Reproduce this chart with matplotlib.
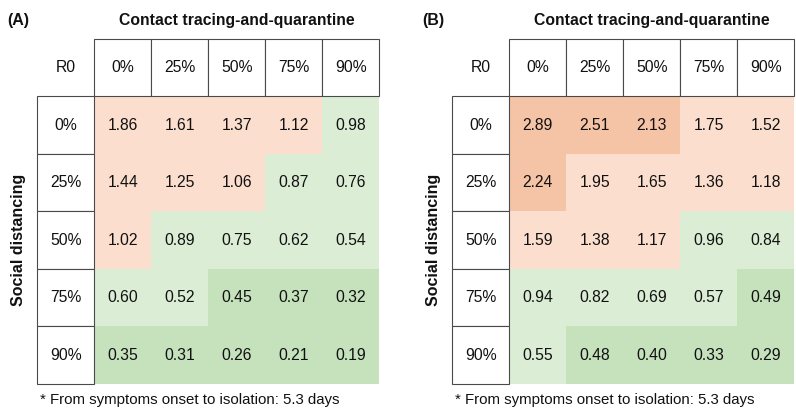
import matplotlib.pyplot as plt
import numpy as np
from matplotlib.colors import ListedColormap, BoundaryNorm
from matplotlib.patches import Rectangle

plt.rcParams['font.family'] = ['Liberation Sans', 'DejaVu Sans']

tracing_levels = ['0%', '25%', '50%', '75%', '90%']
distancing_levels = ['0%', '25%', '50%', '75%', '90%']

r_values_a = [
    [1.86, 1.61, 1.37, 1.12, 0.98],
    [1.44, 1.25, 1.06, 0.87, 0.76],
    [1.02, 0.89, 0.75, 0.62, 0.54],
    [0.60, 0.52, 0.45, 0.37, 0.32],
    [0.35, 0.31, 0.26, 0.21, 0.19],
]
r_values_b = [
    [2.89, 2.51, 2.13, 1.75, 1.52],
    [2.24, 1.95, 1.65, 1.36, 1.18],
    [1.59, 1.38, 1.17, 0.96, 0.84],
    [0.94, 0.82, 0.69, 0.57, 0.49],
    [0.55, 0.48, 0.40, 0.33, 0.29],
]

# colour bands: <0.5, 0.5-1, 1-2, >2
cmap = ListedColormap(['#c6e2bd', '#dcedd6', '#fbdecd', '#f5c3a5'])
norm = BoundaryNorm([0, 0.5, 1, 2, 10], cmap.N)

W, H = 796, 412
fig = plt.figure(figsize=(W / 100, H / 100), dpi=100)

line_col = '#4a4a4a'
txt_col = '#111111'


def draw_panel(x0, label, values):
    # grid spans 6x6 cells (label column + 5, header row + 5)
    ax = fig.add_axes([x0 / W, 1 - 384 / H, 342 / W, 345.3 / H])
    ax.set_xlim(-1, 5)
    ax.set_ylim(5, -1)
    ax.set_axis_off()

    ax.pcolormesh(np.arange(6), np.arange(6), np.array(values), cmap=cmap, norm=norm)

    for i in range(5):
        for j in range(5):
            ax.text(j + 0.5, i + 0.5, f'{values[i][j]:.2f}', ha='center', va='center',
                    fontsize=11.3, color=txt_col)

    for j, lab in enumerate(tracing_levels):
        ax.add_patch(Rectangle((j, -1), 1, 1, facecolor='white', edgecolor=line_col,
                               lw=0.8, clip_on=False))
        ax.text(j + 0.5, -0.5, lab, ha='center', va='center', fontsize=11.3, color=txt_col)
    for i, lab in enumerate(distancing_levels):
        ax.add_patch(Rectangle((-1, i), 1, 1, facecolor='white', edgecolor=line_col,
                               lw=0.8, clip_on=False))
        ax.text(-0.5, i + 0.5, lab, ha='center', va='center', fontsize=11.3, color=txt_col)
    ax.text(-0.5, -0.5, 'R0', ha='center', va='center', fontsize=11.3, color=txt_col)

    # titles and notes in pixel positions of the figure
    fig.text((x0 + 57 + 285 / 2) / W, 1 - 20 / H, 'Contact tracing-and-quarantine',
             ha='center', va='center', fontsize=11.3, fontweight='bold', color=txt_col)
    fig.text((x0 - 30) / W, 1 - 20 / H, label, ha='left', va='center',
             fontsize=11.5, fontweight='bold', color=txt_col)
    fig.text((x0 - 19) / W, 1 - 240 / H, 'Social distancing', ha='center', va='center',
             rotation=90, fontsize=11.5, fontweight='bold', color=txt_col)
    fig.text((x0 + 3) / W, 1 - 400 / H, '* From symptoms onset to isolation: 5.3 days',
             ha='left', va='center', fontsize=10.8, color=txt_col)


draw_panel(37.3, '(A)', r_values_a)
draw_panel(452.3, '(B)', r_values_b)

fig.savefig('out.png', dpi=100)
